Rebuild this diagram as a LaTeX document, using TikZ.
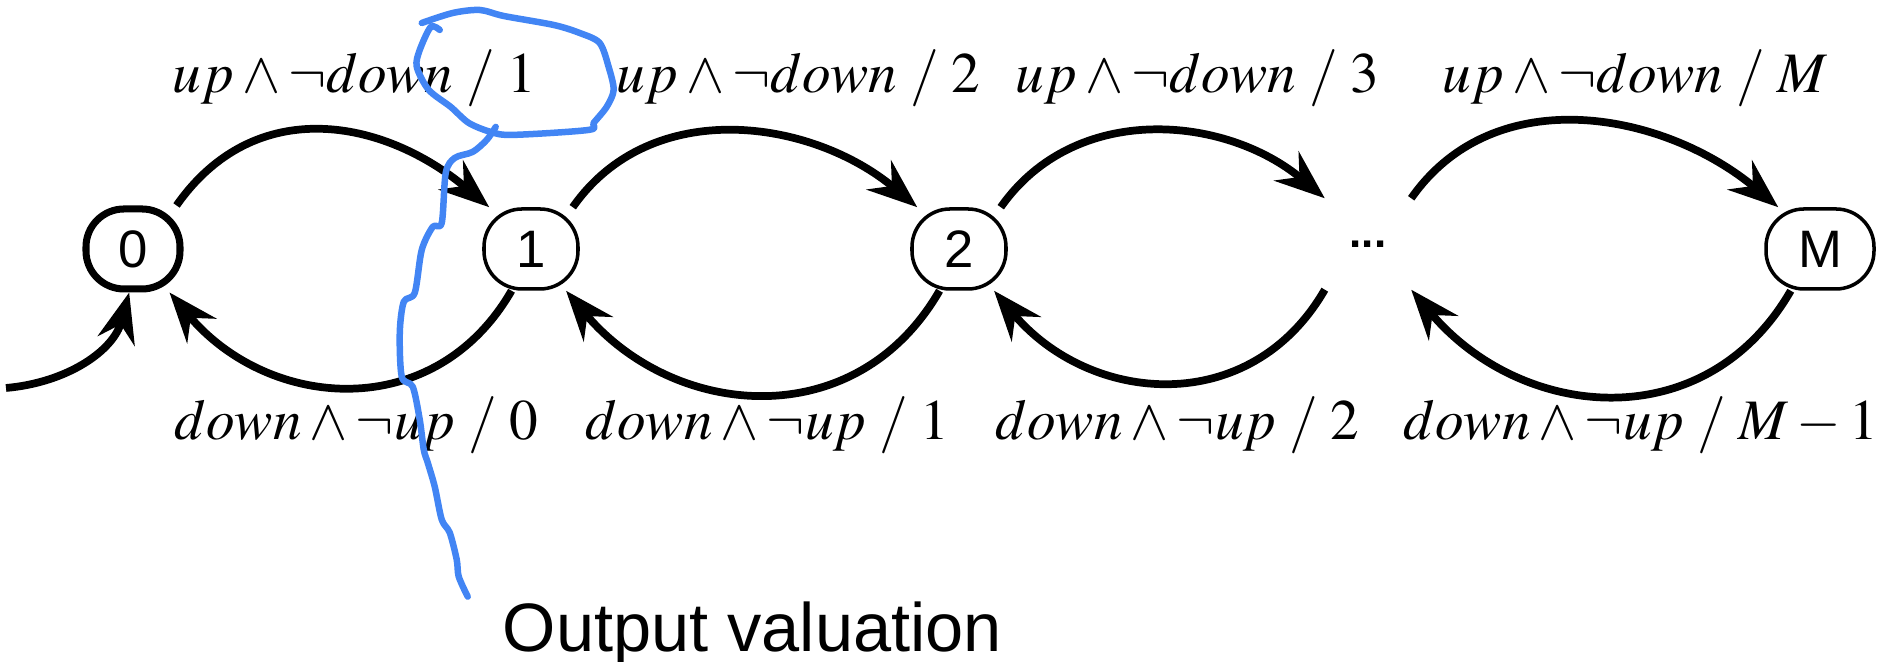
\documentclass[tikz,border=0pt]{standalone}
\usepackage{mathptmx}
\usepackage{fontspec}
\newfontfamily\statefont{Liberation Sans}
\usetikzlibrary{arrows.meta, positioning}
\definecolor{pen}{HTML}{4285F4}

\begin{document}
\begin{tikzpicture}[
  state/.style={draw, line width=1pt, rounded corners=0.38cm, minimum height=0.8cm,
    minimum width=0.94cm, inner sep=0pt, font=\statefont\fontsize{15}{17}\selectfont},
  trans/.style={line width=2.2pt, -{Stealth[length=0.5cm, width=0.38cm, inset=0.17cm]}},
  lbl/.style={anchor=base west, inner sep=0pt, font=\fontsize{16.3}{19}\selectfont}
]
\useasboundingbox (0,0) rectangle (18.84,6.62);

% estados
\node[state, line width=2pt] (s0) at (1.33,4.13) {0};
\node[state] (s1) at (5.31,4.13) {1};
\node[state] (s2) at (9.59,4.13) {2};
\node[minimum width=0.85cm, minimum height=0.9cm, inner sep=0pt,
  font=\statefont\bfseries\fontsize{12.5}{14}\selectfont] (sd) at (13.68,4.18) {...};
\node[state, minimum width=1.08cm] (sM) at (18.20,4.13) {M};

% estado inicial
\coordinate (init) at (0.06,2.74);
\draw[trans] (init) to[out=5, in=-105] (s0.-95);

% arriba: up
\draw[trans] (s0.45) to[out=55, in=140, looseness=1.12] (s1.135);
\draw[trans] (s1.45) to[out=55, in=140, looseness=1.02] (s2.135);
\draw[trans] (s2.45) to[out=55, in=140, looseness=1.02] (sd.north west);
\draw[trans] (sd.north east) to[out=55, in=140, looseness=1.02] (sM.135);

% abajo: down
\draw[trans] (s1.-115) to[out=-120, in=-50, looseness=1.15] (s0.-50);
\draw[trans] (s2.-115) to[out=-120, in=-50, looseness=1.15] (s1.-50);
\draw[trans] (sd.south west) to[out=-120, in=-50, looseness=1.15] (s2.-50);
\draw[trans] (sM.-125) to[out=-120, in=-50, looseness=1.15] (sd.south east);

% etiquetas
\node[lbl] (u1) at (1.72,5.69) {$up\wedge\neg down\;/\;1$};
\node[lbl] (u2) at (6.16,5.69) {$up\wedge\neg down\;/\;2$};
\node[lbl] (u3) at (10.15,5.69) {$up\wedge\neg down\;/\;3$};
\node[lbl] (uM) at (14.42,5.69) {$up\wedge\neg down\;/\;M$};
\node[lbl] (d0) at (1.74,2.22) {$down\wedge\neg up\;/\;0$};
\node[lbl] (d1) at (5.85,2.22) {$down\wedge\neg up\;/\;1$};
\node[lbl] (d2) at (9.95,2.22) {$down\wedge\neg up\;/\;2$};
\node[lbl] (dM) at (14.03,2.22) {$down\wedge\neg up\;/\;M-1$};

% nota a mano
\begin{scope}[shift={(0,6.62)}, x=0.01cm, y=-0.01cm]
\draw[pen, line width=0.065cm, line cap=round, line join=round] plot[smooth] coordinates {
  (422,23) (453,13) (480,10) (504,16) (554,25) (580,33) (600,43) (609,67) (614,90)
  (607,107) (594,123) (589,130) (513,135) (491,132) (469,123) (451,107) (429,90)
  (417,67) (420,50) (431,27) (440,30)};
\draw[pen, line width=0.065cm, line cap=round, line join=round] plot[smooth] coordinates {
  (496,127) (487,140) (473,152) (455,158) (446,173) (442,223) (433,227) (422,250)
  (415,293) (404,302) (400,333) (402,377) (413,387) (420,420) (424,450) (428,463)
  (435,487) (442,520) (450,533) (457,560) (459,577) (468,597)};
\end{scope}
\node[anchor=base west, inner sep=0pt, font=\statefont\fontsize{19.5}{23}\selectfont]
  (ov) at (5.02,0.10) {Output valuation};
\end{tikzpicture}
\end{document}
